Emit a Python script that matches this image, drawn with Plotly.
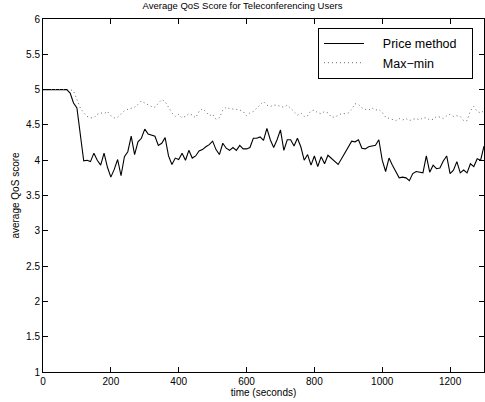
import numpy as np
import plotly.graph_objects as go

time_s = list(range(0, 1301, 10))

price_method = [
    5.0, 5.0, 5.0, 5.0, 5.0, 5.0, 5.0, 5.0,          # 0-70
    4.95, 4.81, 4.74, 4.36, 3.99, 4.0, 3.98, 4.10,   # 80-150
    4.0, 3.93, 4.10, 3.9, 3.76, 3.87, 4.01, 3.78,    # 160-230
    4.05, 4.12, 4.34, 4.08, 4.26, 4.31, 4.44, 4.37,  # 240-310
    4.36, 4.34, 4.21, 4.24, 4.32, 4.06, 3.94, 4.03,  # 320-390
    4.01, 4.10, 4.0, 4.14, 4.03, 4.06, 4.13, 4.15,   # 400-470
    4.19, 4.22, 4.27, 4.15, 4.08, 4.24, 4.17, 4.14,  # 480-550
    4.18, 4.14, 4.21, 4.16, 4.16, 4.18, 4.31, 4.31,  # 560-630
    4.33, 4.28, 4.45, 4.29, 4.18, 4.29, 4.43, 4.14,  # 640-710
    4.29, 4.29, 4.20, 4.31, 4.19, 4.0, 4.08, 3.93,   # 720-790
    4.06, 3.91, 4.05, 3.95, 4.07, 4.03, 3.99, 3.94,  # 800-870
    4.02, 4.10, 4.19, 4.27, 4.26, 4.29, 4.17, 4.16,  # 880-950
    4.19, 4.20, 4.21, 4.29, 4.0, 3.84, 4.03, 3.93,   # 960-1030
    3.83, 3.75, 3.76, 3.75, 3.71, 3.81, 3.84, 3.83,  # 1040-1110
    3.82, 4.06, 3.83, 3.93, 3.88, 3.89, 3.99, 4.06,  # 1120-1190
    3.81, 3.86, 3.98, 3.82, 3.86, 3.82, 3.95, 3.91,  # 1200-1270
    4.02, 4.0, 4.2,                                  # 1280-1300
]

max_min = [
    5.0, 5.0, 5.0, 5.0, 5.0, 5.0, 5.0, 5.0, 5.0,     # 0-80
    4.98, 4.86, 4.74, 4.67, 4.62, 4.60, 4.60, 4.65,  # 90-160
    4.67, 4.66, 4.69, 4.63, 4.60, 4.61, 4.65, 4.70,  # 170-240
    4.72, 4.74, 4.75, 4.79, 4.84, 4.81, 4.78, 4.76,  # 250-320
    4.75, 4.81, 4.86, 4.83, 4.74, 4.67, 4.62, 4.65,  # 330-400
    4.60, 4.62, 4.66, 4.64, 4.60, 4.69, 4.73, 4.69,  # 410-480
    4.63, 4.65, 4.58, 4.60, 4.71, 4.75, 4.73, 4.73,  # 490-560
    4.72, 4.71, 4.69, 4.63, 4.67, 4.69, 4.74, 4.79,  # 570-640
    4.83, 4.78, 4.76, 4.78, 4.78, 4.76, 4.75, 4.78,  # 650-720
    4.73, 4.68, 4.64, 4.67, 4.62, 4.63, 4.70, 4.71,  # 730-800
    4.67, 4.66, 4.69, 4.67, 4.61, 4.61, 4.63, 4.66,  # 810-880
    4.66, 4.67, 4.72, 4.80, 4.79, 4.74, 4.72, 4.71,  # 890-960
    4.74, 4.71, 4.72, 4.68, 4.61, 4.59, 4.57, 4.56,  # 970-1040
    4.59, 4.57, 4.59, 4.56, 4.58, 4.59, 4.57, 4.60,  # 1050-1120
    4.60, 4.57, 4.58, 4.62, 4.61, 4.59, 4.63, 4.65,  # 1130-1200
    4.62, 4.63, 4.62, 4.56, 4.56, 4.70, 4.76, 4.69,  # 1210-1280
    4.67, 4.70,                                      # 1290-1300
]

x_ticks = [0, 200, 400, 600, 800, 1000, 1200]
y_ticks = [1, 1.5, 2, 2.5, 3, 3.5, 4, 4.5, 5, 5.5, 6]
y_tick_labels = ["1", "1.5", "2", "2.5", "3", "3.5", "4", "4.5", "5", "5.5", "6"]

series_names = ["Price method", "Max\u2212min"]

FONT = "Liberation Sans, Arial, Helvetica, sans-serif"
PAD_L = "\u00a0" * 4
PAD_R = "\u00a0" * 3

fig = go.Figure()
fig.add_trace(go.Scatter(
    x=time_s, y=price_method, mode="lines",
    name=PAD_L + series_names[0] + PAD_R,
    line=dict(color="black", width=1.1),
))
fig.add_trace(go.Scatter(
    x=time_s, y=max_min, mode="lines",
    name=PAD_L + series_names[1] + PAD_R,
    line=dict(color="#666666", width=1, dash="1px,3px"),
))

fig.update_layout(
    width=485, height=402,
    margin=dict(l=43, r=1, t=19, b=30),
    paper_bgcolor="white", plot_bgcolor="white",
    font=dict(family=FONT, size=10, color="black"),
    title=dict(text="Average QoS Score for Teleconferencing Users",
               x=0.5, xanchor="center", y=0.993, yanchor="top",
               font=dict(family=FONT, size=9.5, color="black")),
    showlegend=True,
    legend=dict(
        x=0.975, xanchor="right", y=0.975, yanchor="top",
        bgcolor="white", bordercolor="black", borderwidth=1,
        font=dict(family=FONT, size=12.5, color="black"),
        tracegroupgap=0, itemwidth=40,
    ),
)

fig.update_xaxes(
    range=[0, 1300], tickvals=x_ticks, ticks="inside", ticklen=5,
    tickcolor="black", showline=True, linecolor="black", linewidth=1,
    mirror="ticks", showgrid=False, zeroline=False,
    tickfont=dict(size=10), title=dict(text="time (seconds)", standoff=2,
                                        font=dict(size=10)),
)
fig.update_yaxes(
    range=[1, 6], tickvals=y_ticks, ticktext=y_tick_labels, ticks="inside",
    ticklen=5, tickcolor="black", showline=True, linecolor="black",
    linewidth=1, mirror="ticks", showgrid=False, zeroline=False,
    tickfont=dict(size=10), title=dict(text="average QoS score", standoff=4,
                                        font=dict(size=10)),
)

fig.write_html("out.html")
